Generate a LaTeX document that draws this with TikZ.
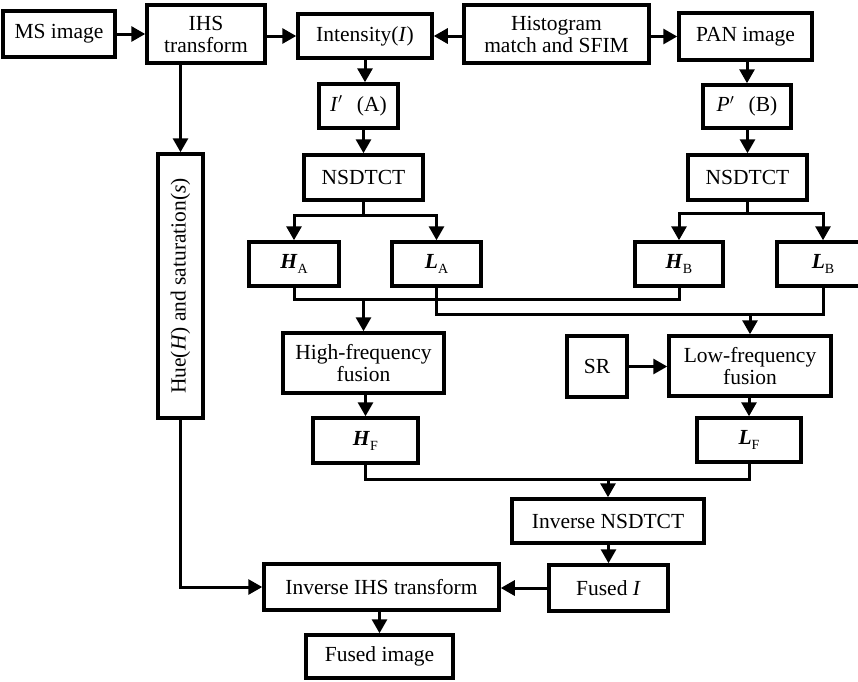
\documentclass[tikz,border=0pt]{standalone}
\usepackage{fontspec}
\setmainfont{Liberation Serif}
\usetikzlibrary{arrows.meta}
\newcommand{\bsub}[2]{\textbf{\textit{#1}}\raisebox{-5pt}{\fontsize{14}{14}\selectfont #2}}
\begin{document}
\begin{tikzpicture}[x=1pt,y=-1pt,
  box/.style={draw, line width=3.5pt, inner sep=0pt, align=center,
    font=\fontsize{21.5}{22}\selectfont, fill=white},
  conn/.style={line width=3pt},
  arr/.style={conn, -{Triangle[length=14pt,width=15pt]}},
]
\fill[white] (0,0) rectangle (858,681);
\useasboundingbox (0,0) rectangle (858,681);
\clip (0,0) rectangle (858,681);

% top row
\node[box, minimum width=112, minimum height=46] (ms) at (59,34) {MS image};
\node[box, minimum width=118, minimum height=58] (ihs) at (206,34) {IHS\\transform};
\node[box, minimum width=134, minimum height=44] (inten) at (365,36) {Intensity(\textit{I})};
\node[box, minimum width=185, minimum height=58] (hist) at (556.5,34) {Histogram\\match and SFIM};
\node[box, minimum width=133, minimum height=47] (pan) at (745.5,36.5) {PAN image};

\node[box, minimum width=79, minimum height=44] (ia) at (358.5,106) {\textit{I}${}'$\enspace\,(A)};
\node[box, minimum width=88, minimum height=43] (pb) at (747,106.5) {\textit{P}${}'$\enspace\,(B)};

\node[box, minimum width=119, minimum height=45] (ns1) at (363.5,177.5) {NSDTCT};
\node[box, minimum width=119, minimum height=45] (ns2) at (747.5,177.5) {NSDTCT};

\node[box, rotate=90, minimum width=264, minimum height=45] (hue) at (180.5,286)
  {Hue(\textit{H}) and saturation(\textit{s})};

\node[box, minimum width=90, minimum height=44] (ha) at (294,264) {\bsub{H}{A}};
\node[box, minimum width=89, minimum height=44] (la) at (436.5,264) {\bsub{L}{A}};
\node[box, minimum width=88, minimum height=44] (hb) at (679,264) {\bsub{H}{B}};
\node[box, minimum width=92, minimum height=44] (lb) at (823,264) {\bsub{L}{B}};

\node[box, minimum width=161, minimum height=60] (hf) at (363.5,363) {High-frequency\\fusion};
\node[box, minimum width=162, minimum height=60] (lf) at (750,366) {Low-frequency\\fusion};
\node[box, minimum width=60, minimum height=61] (sr) at (597,366.5) {SR};

\node[box, minimum width=105, minimum height=45] (hF) at (365.5,440.5) {\bsub{H}{F}};
\node[box, minimum width=104, minimum height=44] (lF) at (749,440) {\bsub{L}{F}};

\node[box, minimum width=192, minimum height=44] (ins) at (608,521) {Inverse NSDTCT};
\node[box, minimum width=119, minimum height=46] (fi) at (608.5,588) {Fused \textit{I}};
\node[box, minimum width=235, minimum height=46] (iihs) at (381.5,587) {Inverse IHS transform};
\node[box, minimum width=147, minimum height=43] (fimg) at (379.5,656.5) {Fused image};

% junction coordinates
\coordinate (j1) at (363.5,215);
\coordinate (j2) at (747.5,213);
\coordinate (j3) at (363.5,298);
\coordinate (j4) at (750,313);
\coordinate (j5) at (608,478);

% top connectors
\draw[arr] (ms.east) -- (ihs.west |- ms.east);
\draw[arr] (ihs.east |- inten.west) -- (inten.west);
\draw[arr] (hist.west |- inten.east) -- (inten.east);
\draw[arr] (hist.east |- pan.west) -- (pan.west);

\draw[arr] (inten.south) -- (inten.south |- ia.north);
\draw[arr] (pb.north |- pan.south) -- (pb.north);
\draw[arr] (ns1.north |- ia.south) -- (ns1.north);
\draw[arr] (ns2.north |- pb.south) -- (ns2.north);

\draw[arr] (hue.east |- ihs.south) -- (hue.east);

% branches
\draw[conn] (ns1.south) -- (j1);
\draw[arr] (j1) -| (ha.north);
\draw[arr] (j1) -| (la.north);
\draw[conn] (ns2.south) -- (j2);
\draw[arr] (j2) -| (hb.north);
\draw[arr] (j2) -| (lb.north);

% merge lines
\draw[conn] (ha.south) -- ++(0,12) -| (hb.south);
\draw[conn] (la.south) -- ++(0,27) -| (lb.south);
\draw[arr] (j3) -- (hf.north);
\draw[arr] (j4) -- (lf.north);
\draw[arr] (sr.east) -- (lf.west |- sr.east);

\draw[arr] (hF.north |- hf.south) -- (hF.north);
\draw[arr] (lF.north |- lf.south) -- (lF.north);

\draw[conn] (hF.south) -- ++(0,15) -| (lF.south);
\draw[arr] (j5) -- (ins.north);
\draw[arr] (fi.north |- ins.south) -- (fi.north);
\draw[arr] (fi.west) -- (iihs.east |- fi.west);
\draw[arr] (hue.west) |- (iihs.west);
\draw[arr] (fimg.north |- iihs.south) -- (fimg.north);
\end{tikzpicture}
\end{document}
